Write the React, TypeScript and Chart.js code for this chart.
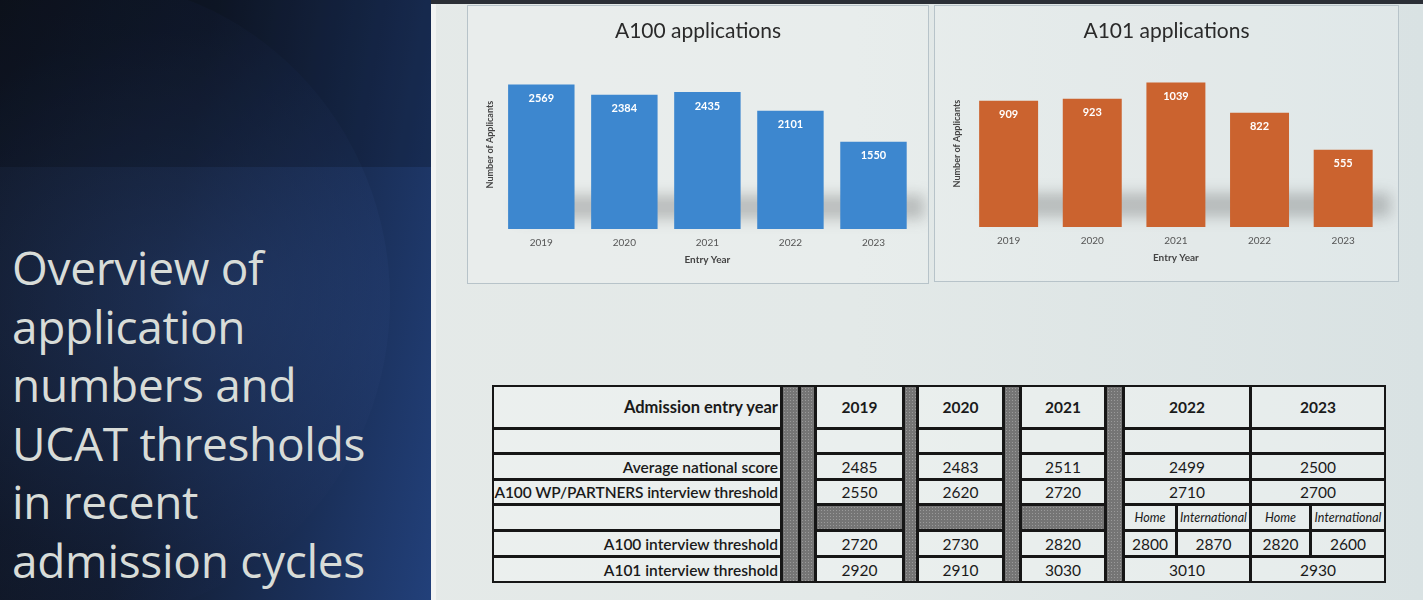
import React, { useEffect, useRef } from "react";
import { Chart, registerables } from "chart.js";

Chart.register(...registerables);

// ---------- DATA ----------
const years = ["2019", "2020", "2021", "2022", "2023"];
const a100Applications = [2569, 2384, 2435, 2101, 1550];
const a101Applications = [909, 923, 1039, 822, 555];

const avgNationalScore = [2485, 2483, 2511, 2499, 2500];
const a100WpPartnersThreshold = [2550, 2620, 2720, 2710, 2700];
const a100ThresholdHome = [2720, 2730, 2820, 2800, 2820];
const a100ThresholdInternational = [null, null, null, 2870, 2600];
const a101Threshold = [2920, 2910, 3030, 3010, 2930];

const rowLabels = [
  "Admission entry year",
  "",
  "Average national score",
  "A100 WP/PARTNERS interview threshold",
  "",
  "A100 interview threshold",
  "A101 interview threshold",
];
const splitLabels = ["Home", "International"];

const slideTitle = ["Overview of", "application", "numbers and", "UCAT thresholds", "in recent", "admission cycles"];

// ---------- PLUGINS ----------
const valueLabels = {
  id: "valueLabels",
  afterDatasetsDraw(chart: any) {
    const ctx = chart.ctx;
    chart.data.datasets.forEach((ds: any, i: number) => {
      const meta = chart.getDatasetMeta(i);
      meta.data.forEach((bar: any, j: number) => {
        ctx.save();
        ctx.fillStyle = "#ffffff";
        ctx.font = "bold 11px Lato";
        ctx.textAlign = "center";
        ctx.textBaseline = "middle";
        ctx.fillText(String(ds.data[j]), bar.x, bar.y + 14);
        ctx.restore();
      });
    });
  },
};

const barShadow = {
  id: "barShadow",
  beforeDatasetsDraw(chart: any) {
    const ctx = chart.ctx;
    const meta = chart.getDatasetMeta(0);
    if (!meta.data.length) return;
    const first = meta.data[0];
    const last = meta.data[meta.data.length - 1];
    const bottom = chart.chartArea.bottom;
    const x0 = first.x - first.width / 2 + 10;
    const x1 = last.x + last.width / 2 + 18;
    ctx.save();
    ctx.filter = "blur(7px)";
    ctx.fillStyle = "rgba(70,70,70,0.28)";
    ctx.fillRect(x0, bottom - 34, x1 - x0, 24);
    ctx.restore();
  },
};

function makeConfig(title: string, values: number[], color: string, max: number, barPct: number) {
  return {
    type: "bar" as const,
    data: {
      labels: years,
      datasets: [
        {
          data: values,
          backgroundColor: color,
          barPercentage: barPct,
          categoryPercentage: 1,
        },
      ],
    },
    options: {
      animation: false as const,
      responsive: false,
      devicePixelRatio: 1,
      layout: { padding: { left: 13, right: 13, top: 0, bottom: 17 } },
      plugins: {
        legend: { display: false },
        tooltip: { enabled: false },
        title: {
          display: true,
          text: title,
          color: "#2a2a2a",
          font: { family: "Lato", size: 21, weight: "normal" as const },
          padding: { top: 13, bottom: 16 },
        },
      },
      scales: {
        x: {
          grid: { display: false, drawTicks: false },
          border: { display: false },
          ticks: { color: "#555", font: { family: "Lato", size: 10 }, padding: 8 },
          title: {
            display: true,
            text: "Entry Year",
            color: "#444",
            font: { family: "Lato", size: 10, weight: "bold" as const },
            padding: { top: -3, bottom: 0 },
          },
        },
        y: {
          min: 0,
          max: max,
          grid: { display: false, drawTicks: false },
          border: { display: false },
          ticks: { display: false },
          title: {
            display: true,
            text: "Number of Applicants",
            color: "#444",
            font: { family: "Lato", size: 9, weight: "bold" as const },
            padding: { top: 4, bottom: 4 },
          },
        },
      },
    },
    plugins: [barShadow, valueLabels],
  };
}

function BarChart(props: { cfg: any; left: number; top: number; width: number; height: number }) {
  const ref = useRef<HTMLCanvasElement>(null);
  useEffect(() => {
    if (!ref.current) return;
    const chart = new Chart(ref.current, props.cfg);
    return () => chart.destroy();
  }, []);
  return (
    <div
      style={{
        position: "absolute",
        left: props.left,
        top: props.top,
        width: props.width,
        height: props.height,
        border: "1px solid #b7c3c9",
        boxSizing: "border-box",
        background: "rgba(255,255,255,0.18)",
      }}
    >
      <canvas ref={ref} width={props.width - 2} height={props.height - 2} style={{ display: "block" }} />
    </div>
  );
}

// ---------- TABLE ----------
const X = {
  label: [492, 781],
  sep1a: [781, 799],
  sep1b: [799, 815],
  c0: [815, 903],
  sep2: [903, 917],
  c1: [917, 1003],
  sep3: [1003, 1020],
  c2: [1020, 1105],
  sep4: [1105, 1123],
  c3: [1123, 1250],
  c3h: [1123, 1176],
  c3i: [1176, 1250],
  c4: [1250, 1385],
  c4h: [1250, 1310],
  c4i: [1310, 1385],
};
const Y = [385, 428, 453, 479, 504, 530, 556, 582];
const GRAY = "#757575";
const GRAY_DOTS = "radial-gradient(circle, #9a9a9a 0.7px, transparent 0.8px)";

function Cell(props: { x: number[]; y0: number; y1: number; children?: any; style?: any }) {
  return (
    <div
      style={{
        position: "absolute",
        left: props.x[0],
        top: props.y0,
        width: props.x[1] - props.x[0] + 1,
        height: props.y1 - props.y0 + 1,
        border: "2px solid #161616",
        boxSizing: "border-box",
        display: "flex",
        alignItems: "center",
        justifyContent: "center",
        fontFamily: "Lato",
        fontSize: 15.5,
        color: "#1a1a1a",
        background: "rgba(240,244,242,0.55)",
        whiteSpace: "nowrap",
        overflow: "hidden",
        ...props.style,
      }}
    >
      {props.children}
    </div>
  );
}

const grayStyle = { background: GRAY, backgroundImage: GRAY_DOTS, backgroundSize: "3px 3px" };

function Table() {
  const cells: any[] = [];
  rowLabels.forEach((t, r) => {
    cells.push(
      <Cell
        key={"l" + r}
        x={X.label}
        y0={Y[r]}
        y1={Y[r + 1]}
        style={{ justifyContent: "flex-end", paddingRight: 2, fontWeight: r === 0 ? 700 : 600, fontSize: r === 0 ? 16.5 : 15.5, letterSpacing: r === 3 ? -0.1 : 0 }}
      >
        {t}
      </Cell>
    );
  });
  [X.sep1a, X.sep1b, X.sep2, X.sep3, X.sep4].forEach((x, i) => {
    cells.push(<Cell key={"s" + i} x={x} y0={Y[0]} y1={Y[7]} style={grayStyle} />);
  });
  [X.c0, X.c1, X.c2].forEach((x, i) => {
    cells.push(<Cell key={"h" + i} x={x} y0={Y[0]} y1={Y[1]} style={{ fontWeight: 700 }}>{years[i]}</Cell>);
    cells.push(<Cell key={"e" + i} x={x} y0={Y[1]} y1={Y[2]} />);
    cells.push(<Cell key={"a" + i} x={x} y0={Y[2]} y1={Y[3]}>{avgNationalScore[i]}</Cell>);
    cells.push(<Cell key={"w" + i} x={x} y0={Y[3]} y1={Y[4]}>{a100WpPartnersThreshold[i]}</Cell>);
    cells.push(<Cell key={"g" + i} x={x} y0={Y[4]} y1={Y[5]} style={grayStyle} />);
    cells.push(<Cell key={"t" + i} x={x} y0={Y[5]} y1={Y[6]}>{a100ThresholdHome[i]}</Cell>);
    cells.push(<Cell key={"u" + i} x={x} y0={Y[6]} y1={Y[7]}>{a101Threshold[i]}</Cell>);
  });
  [
    [X.c3, X.c3h, X.c3i],
    [X.c4, X.c4h, X.c4i],
  ].forEach(([x, xh, xi], k) => {
    const i = k + 3;
    cells.push(<Cell key={"h" + i} x={x} y0={Y[0]} y1={Y[1]} style={{ fontWeight: 700 }}>{years[i]}</Cell>);
    cells.push(<Cell key={"e" + i} x={x} y0={Y[1]} y1={Y[2]} />);
    cells.push(<Cell key={"a" + i} x={x} y0={Y[2]} y1={Y[3]}>{avgNationalScore[i]}</Cell>);
    cells.push(<Cell key={"w" + i} x={x} y0={Y[3]} y1={Y[4]}>{a100WpPartnersThreshold[i]}</Cell>);
    cells.push(<Cell key={"sh" + i} x={xh} y0={Y[4]} y1={Y[5]} style={{ fontStyle: "italic", fontSize: 12.5 }}>{splitLabels[0]}</Cell>);
    cells.push(<Cell key={"si" + i} x={xi} y0={Y[4]} y1={Y[5]} style={{ fontStyle: "italic", fontSize: 12.5 }}>{splitLabels[1]}</Cell>);
    cells.push(<Cell key={"th" + i} x={xh} y0={Y[5]} y1={Y[6]}>{a100ThresholdHome[i]}</Cell>);
    cells.push(<Cell key={"ti" + i} x={xi} y0={Y[5]} y1={Y[6]}>{a100ThresholdInternational[i]}</Cell>);
    cells.push(<Cell key={"u" + i} x={x} y0={Y[6]} y1={Y[7]}>{a101Threshold[i]}</Cell>);
  });
  return <>{cells}</>;
}

export default function App() {
  return (
    <div style={{ position: "fixed", left: 0, top: 0, width: 1423, height: 600, overflow: "hidden", background: "linear-gradient(90deg, #e6eae8 0%, #e3e9e8 60%, #d9e2e3 100%)" }}>
      <div style={{ position: "absolute", left: 0, top: 0, width: 1423, height: 4, background: "#2b2f36" }} />
      <div
        style={{
          position: "absolute",
          left: 0,
          top: 0,
          width: 431,
          height: 600,
          overflow: "hidden",
          background: "linear-gradient(100deg, #0d1119 0%, #111a2c 40%, #1a2f58 75%, #22407a 100%)",
        }}
      >
        <div
          style={{
            position: "absolute",
            left: -230,
            top: -20,
            width: 620,
            height: 640,
            borderRadius: "50%",
            background: "radial-gradient(ellipse at 70% 50%, rgba(45,75,135,0.45) 0%, rgba(25,40,75,0.25) 60%, rgba(15,20,35,0.05) 100%)",
          }}
        />
        <div style={{ position: "absolute", left: 0, top: 0, width: 431, height: 167, background: "rgba(0,0,0,0.18)" }} />
        <div style={{ position: "absolute", left: 12, top: 238, fontFamily: "Open Sans", fontSize: 46, lineHeight: "58.5px", color: "#d8dcd8", letterSpacing: -0.3 }}>
          {slideTitle.map((l, i) => (
            <div key={i} style={{ whiteSpace: "nowrap" }}>{l}</div>
          ))}
        </div>
      </div>
      <div style={{ position: "absolute", left: 431, top: 4, width: 5, height: 596, background: "#f2f4f3" }} />

      <BarChart cfg={makeConfig("A100 applications", a100Applications, "#3d87cf", 3000, 0.8)} left={467} top={5} width={462} height={279} />
      <BarChart cfg={makeConfig("A101 applications", a101Applications, "#cb632f", 1200, 0.705)} left={934} top={5} width={465} height={277} />

      <Table />
    </div>
  );
}
